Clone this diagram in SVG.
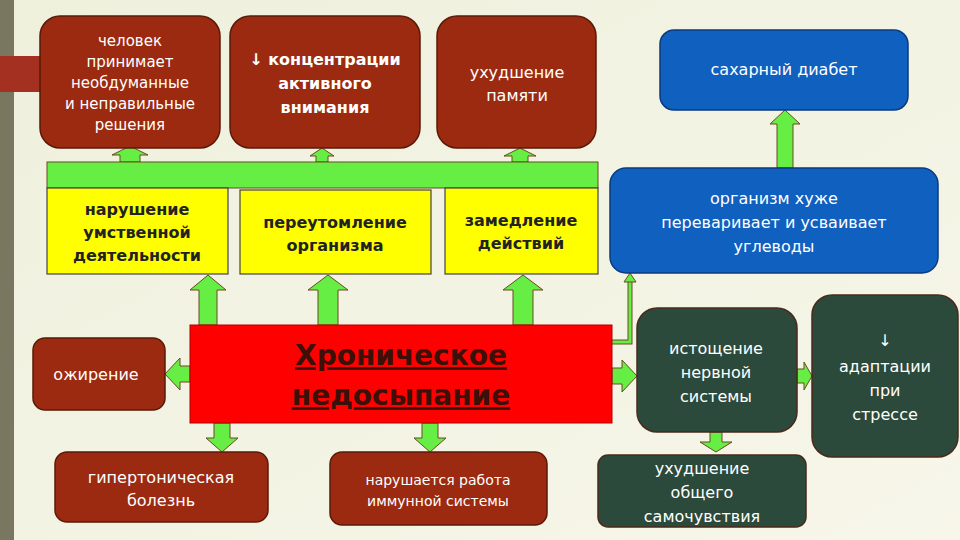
<svg xmlns="http://www.w3.org/2000/svg" width="960" height="540" viewBox="0 0 960 540">
<defs>
<linearGradient id="bg" x1="0" y1="0" x2="1" y2="1"><stop offset="0" stop-color="#eef0dc"/><stop offset="1" stop-color="#f7f6ea"/></linearGradient>
<style>
.br{fill:#9c2a10;stroke:#5a1a08;stroke-width:1.5}
.dg{fill:#2c4a3c;stroke:#4a2a1a;stroke-width:1.5}
.bl{fill:#1060c0;stroke:#0a3a80;stroke-width:1.5}
.ye{fill:#ffff00;stroke:#444;stroke-width:1.2}
.ar{fill:#66ee44;stroke:#6a4a20;stroke-width:1}
text{font-family:"DejaVu Sans","Liberation Sans",sans-serif;text-anchor:middle}
.w{fill:#fff;font-size:15px}
.k{fill:#222;font-size:16px;font-weight:bold}
</style>
</defs>
<rect width="960" height="540" fill="url(#bg)"/>
<rect x="0" y="0" width="14" height="540" fill="#7a7760"/>
<rect x="0" y="56" width="42" height="36" fill="#a33020"/>
<g id="connectors">
<polygon class="ar" points="120,162 120,155 112,155 130,146 148,155 140,155 140,162"/>
<polygon class="ar" points="316,162 316,156 310,156 322,148 334,156 328,156 328,162"/>
<polygon class="ar" points="512,162 512,156 504,156 520,148 536,156 528,156 528,162"/>
<rect x="47" y="162" width="551" height="26" fill="#66ee44" stroke="#6a4a20" stroke-width="1"/>
<polygon class="ar" points="777,168 777,124 770,124 785,110 800,124 793,124 793,168"/>
<polygon class="ar" points="199,325 199,290 190,290 208,275 226,290 217,290 217,325"/>
<polygon class="ar" points="318,325 318,290 308,290 328,275 348,290 338,290 338,325"/>
<polygon class="ar" points="513,325 513,290 503,290 523,275 543,290 533,290 533,325"/>
<polygon class="ar" points="190,366 180,366 180,358 165,374 180,390 180,382 190,382"/>
<polygon class="ar" points="214,423 214,438 206,438 222,452 238,438 230,438 230,423"/>
<polygon class="ar" points="422,423 422,438 414,438 430,452 446,438 438,438 438,423"/>
<polygon class="ar" points="612,368 622,368 622,360 637,376 622,392 622,384 612,384"/>
<polygon class="ar" points="797,369 804,369 804,362 812,376 804,390 804,383 797,383"/>
<polygon class="ar" points="710,432 710,442 700,442 716,452 732,442 722,442 722,432"/>
<path d="M612,342 H630 V280" fill="none" stroke="#6a4a20" stroke-width="5"/>
<path d="M612,342 H630 V280" fill="none" stroke="#66ee44" stroke-width="3"/>
<polygon points="624,282 630,273 636,282" fill="#66ee44" stroke="#6a4a20" stroke-width="1"/>
</g>
<g id="n1"><rect class="br" x="40" y="16" width="180" height="132" rx="20"/>
<text class="w"><tspan x="130" y="46">человек</tspan><tspan x="130" y="67">принимает</tspan><tspan x="130" y="88">необдуманные</tspan><tspan x="130" y="109">и неправильные</tspan><tspan x="130" y="130">решения</tspan></text></g>
<g id="n2"><rect class="br" x="230" y="16" width="190" height="132" rx="20"/>
<text class="w" style="font-weight:bold;font-size:16px"><tspan x="325" y="65">↓ концентрации</tspan><tspan x="325" y="89">активного</tspan><tspan x="325" y="113">внимания</tspan></text></g>
<g id="n3"><rect class="br" x="437" y="16" width="159" height="132" rx="20"/>
<text class="w" style="font-size:16px"><tspan x="517" y="78">ухудшение</tspan><tspan x="517" y="101">памяти</tspan></text></g>
<g id="n4"><rect class="bl" x="660" y="30" width="248" height="80" rx="14"/>
<text class="w" x="784" y="75" style="font-size:16px">сахарный диабет</text></g>
<g id="n5"><rect class="ye" x="47" y="188" width="181" height="86"/>
<text class="k"><tspan x="137" y="215">нарушение</tspan><tspan x="137" y="238">умственной</tspan><tspan x="137" y="261">деятельности</tspan></text></g>
<g id="n6"><rect class="ye" x="240" y="190" width="191" height="84"/>
<text class="k"><tspan x="335" y="228">переутомление</tspan><tspan x="335" y="251">организма</tspan></text></g>
<g id="n7"><rect class="ye" x="445" y="188" width="153" height="86"/>
<text class="k"><tspan x="521" y="226">замедление</tspan><tspan x="521" y="249">действий</tspan></text></g>
<g id="n8"><rect class="bl" x="610" y="168" width="328" height="105" rx="16"/>
<text class="w" style="font-size:16px"><tspan x="774" y="204">организм хуже</tspan><tspan x="774" y="228">переваривает и усваивает</tspan><tspan x="774" y="252">углеводы</tspan></text></g>
<g id="n9"><rect x="190" y="325" width="422" height="98" fill="#ff0000" stroke="#b00000" stroke-width="1"/>
<text style="font-size:28px;font-weight:bold;fill:#3a1008;text-decoration:underline"><tspan x="401" y="365">Хроническое</tspan><tspan x="401" y="405">недосыпание</tspan></text></g>
<g id="n10"><rect class="br" x="33" y="338" width="132" height="72" rx="12"/>
<text class="w" x="96" y="380" style="font-size:16px">ожирение</text></g>
<g id="n11"><rect class="br" x="55" y="452" width="213" height="70" rx="12"/>
<text class="w" style="font-size:16px"><tspan x="161" y="483">гипертоническая</tspan><tspan x="161" y="506">болезнь</tspan></text></g>
<g id="n12"><rect class="br" x="330" y="452" width="217" height="73" rx="12"/>
<text class="w" style="font-size:14px"><tspan x="438" y="485">нарушается работа</tspan><tspan x="438" y="506">иммунной системы</tspan></text></g>
<g id="n13"><rect class="dg" x="637" y="308" width="160" height="124" rx="20"/>
<text class="w" style="font-size:16px"><tspan x="716" y="354">истощение</tspan><tspan x="716" y="378">нервной</tspan><tspan x="716" y="402">системы</tspan></text></g>
<g id="n14"><rect class="dg" x="812" y="295" width="146" height="162" rx="20"/>
<text class="w" style="font-size:16px"><tspan x="885" y="346">↓</tspan><tspan x="885" y="372">адаптации</tspan><tspan x="885" y="396">при</tspan><tspan x="885" y="420">стрессе</tspan></text></g>
<g id="n15"><rect class="dg" x="598" y="455" width="208" height="72" rx="10"/>
<text class="w" style="font-size:16px"><tspan x="702" y="474">ухудшение</tspan><tspan x="702" y="498">общего</tspan><tspan x="702" y="522">самочувствия</tspan></text></g>
</svg>
